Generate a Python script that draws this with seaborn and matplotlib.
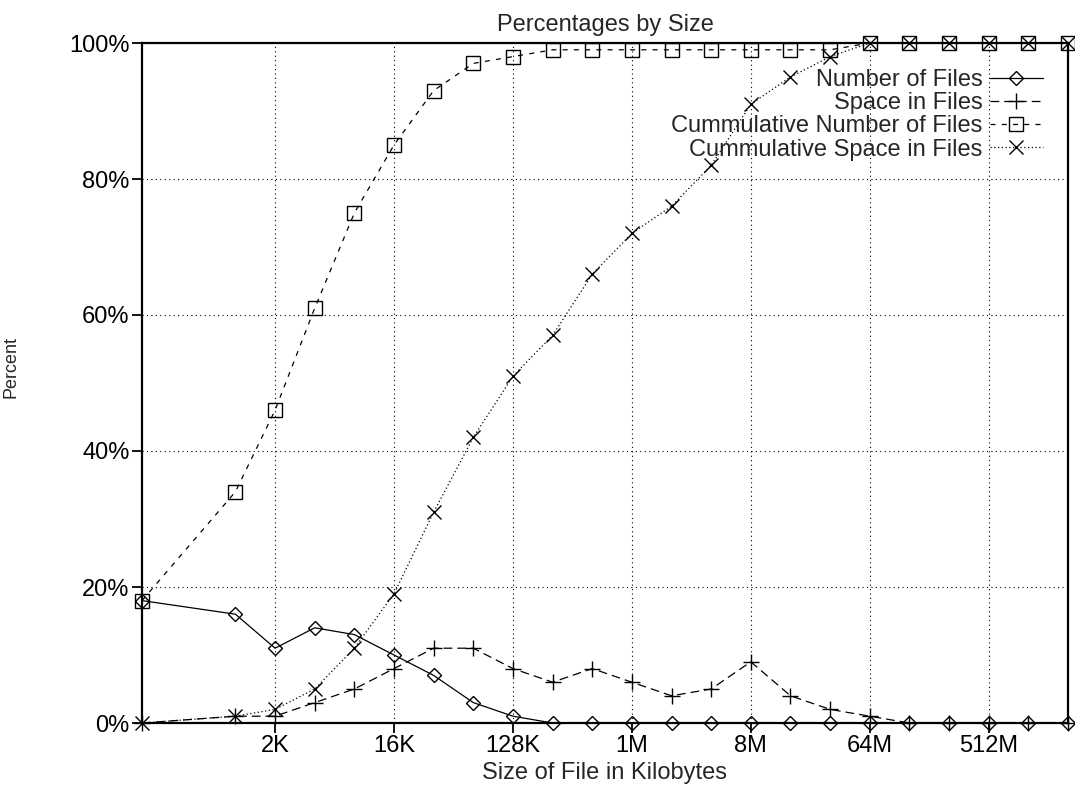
import matplotlib
matplotlib.use("Agg")
import matplotlib.pyplot as plt
import seaborn as sns
import numpy as np
import pandas as pd

# x positions (bytes-like units on log2 axis)
sizes = [200, 2**10, 2**11, 2**12, 2**13, 2**14, 2**15, 2**16, 2**17, 2**18,
         2**19, 2**20, 2**21, 2**22, 2**23, 2**24, 2**25, 2**26, 2**27,
         2**28, 2**29, 2**30, 2**31]

num_files = [18, 16, 11, 14, 13, 10, 7, 3, 1, 0, 0, 0, 0, 0, 0, 0, 0, 0, 0,
             0, 0, 0, 0]
space_files = [0, 1, 1, 3, 5, 8, 11, 11, 8, 6, 8, 6, 4, 5, 9, 4, 2, 1, 0,
               0, 0, 0, 0]
cum_num = [18, 34, 46, 61, 75, 85, 93, 97, 98, 99, 99, 99, 99, 99, 99, 99,
           99, 100, 100, 100, 100, 100, 100]
cum_space = [0, 1, 2, 5, 11, 19, 31, 42, 51, 57, 66, 72, 76, 82, 91, 95, 98,
             100, 100, 100, 100, 100, 100]

series_names = ["Number of Files", "Space in Files",
                "Cummulative Number of Files", "Cummulative Space in Files"]

tick_vals = [2**11, 2**14, 2**17, 2**20, 2**23, 2**26, 2**29]
tick_labels = ["2K", "16K", "128K", "1M", "8M", "64M", "512M"]
y_ticks = [0, 20, 40, 60, 80, 100]
y_labels = ["0%", "20%", "40%", "60%", "80%", "100%"]

sns.set_style("white")
plt.rcParams['font.family'] = ['Liberation Sans', 'DejaVu Sans']
FS = 17

fig = plt.figure(figsize=(10.75, 7.89), dpi=100)
ax = fig.add_axes([142/1075, 1 - 723/789, (1068-142)/1075, (723-43)/789])

styles = {
    "Number of Files": dict(marker="D", ms=7, ls="-"),
    "Space in Files": dict(marker="+", ms=11, ls=(0, (7, 4))),
    "Cummulative Number of Files": dict(marker="s", ms=10, ls=(0, (4, 5))),
    "Cummulative Space in Files": dict(marker="x", ms=10, ls=(0, (1, 2))),
}
data = {
    "Number of Files": num_files,
    "Space in Files": space_files,
    "Cummulative Number of Files": cum_num,
    "Cummulative Space in Files": cum_space,
}

for name in series_names:
    st = styles[name]
    df = pd.DataFrame({"size": sizes, "pct": data[name]})
    sns.lineplot(data=df, x="size", y="pct", ax=ax, color="black",
                 marker=st["marker"], markersize=st["ms"], linestyle=st["ls"],
                 linewidth=0.9, mfc="none", mec="black", mew=1.0,
                 label=name, clip_on=False, zorder=3)

ax.set_xscale("log", base=2)
ax.set_xlim(200, 2**31)
ax.set_ylim(0, 100)
ax.set_xticks(tick_vals)
ax.set_xticklabels(tick_labels, fontsize=FS)
ax.minorticks_off()
ax.set_yticks(y_ticks)
ax.set_yticklabels(y_labels, fontsize=FS)
ax.tick_params(axis="both", direction="out", length=7, width=1.3,
               color="black", pad=2, bottom=True, left=True, top=False,
               right=False, labelcolor="black")

ax.grid(True, color="black", linestyle=(0, (1, 3)), linewidth=0.8)
for sp in ax.spines.values():
    sp.set_visible(True)
    sp.set_color("black")
    sp.set_linewidth(1.6)

ax.set_title("Percentages by Size", fontsize=FS, pad=9)
ax.set_xlabel("Size of File in Kilobytes", fontsize=FS, labelpad=3)
ax.set_ylabel("Percent", fontsize=13,
              family=['Liberation Sans Narrow', 'Liberation Sans'])
ax.yaxis.set_label_coords((20 - 142) / 926, (723 - 367) / 680)

handles, labels = ax.get_legend_handles_labels()
leg = ax.legend(handles, labels, loc="upper right",
                bbox_to_anchor=((1043-142)/926, (723-69)/680),
                frameon=False, markerfirst=False, fontsize=FS,
                handlelength=2.25, handletextpad=0.3, labelspacing=0.05,
                borderpad=0, borderaxespad=0)
for t in leg.get_texts():
    t.set_ha("right")

fig.savefig("out.png", dpi=100)
